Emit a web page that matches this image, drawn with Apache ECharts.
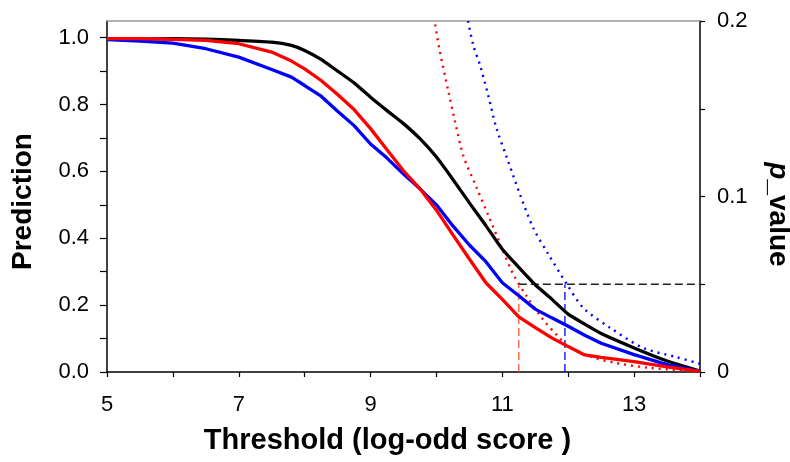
<!DOCTYPE html>
<html>
<head>
<meta charset="utf-8">
<script src="https://cdn.jsdelivr.net/npm/echarts@6/dist/echarts.min.js"></script>
<style>
html,body{margin:0;padding:0;background:#fff;}
#chart{width:790px;height:462px;}
</style>
</head>
<body>
<div id="chart"></div>
<script>
// ---- data ----
var thresholds = [5, 5.5, 6, 6.5, 7, 7.5, 7.8, 8, 8.25, 8.5, 8.75, 9, 9.25, 9.5, 9.75, 10, 10.25, 10.5, 10.75, 11, 11.25, 11.5, 11.75, 12, 12.25, 12.5, 13, 13.5, 14];
var predBlack = [0.995, 0.996, 0.997, 0.996, 0.992, 0.987, 0.977, 0.962, 0.935, 0.900, 0.865, 0.822, 0.782, 0.743, 0.698, 0.643, 0.576, 0.506, 0.438, 0.367, 0.313, 0.261, 0.218, 0.173, 0.143, 0.115, 0.072, 0.033, 0.003];
var predRed   = [0.997, 0.997, 0.995, 0.992, 0.982, 0.957, 0.930, 0.907, 0.872, 0.830, 0.785, 0.728, 0.665, 0.602, 0.548, 0.484, 0.410, 0.338, 0.267, 0.217, 0.165, 0.133, 0.102, 0.076, 0.051, 0.044, 0.031, 0.015, 0.002];
var predBlue  = [0.994, 0.990, 0.984, 0.967, 0.942, 0.905, 0.882, 0.857, 0.825, 0.780, 0.737, 0.682, 0.640, 0.592, 0.548, 0.500, 0.437, 0.380, 0.330, 0.267, 0.228, 0.188, 0.162, 0.137, 0.110, 0.086, 0.052, 0.022, 0.002];

var redPX  = [9.98, 10.05, 10.18, 10.28, 10.41, 10.61, 10.79, 11.0, 11.17, 11.37, 11.62, 11.82, 12.0, 12.33, 12.73, 13.24, 14];
var redP   = [0.198, 0.183, 0.160, 0.143, 0.123, 0.105, 0.089, 0.070, 0.0554, 0.0431, 0.0298, 0.0213, 0.0146, 0.0089, 0.0051, 0.0023, 0.0003];
var bluePX = [10.48, 10.56, 10.66, 10.79, 10.91, 11.07, 11.27, 11.47, 11.7, 11.98, 12.23, 12.64, 13.14, 13.64, 14];
var blueP  = [0.200, 0.186, 0.175, 0.157, 0.139, 0.122, 0.101, 0.082, 0.067, 0.050, 0.0365, 0.0251, 0.0137, 0.0085, 0.0047];

var pCutoff = 0.05;
var redCut = 11.25;
var blueCut = 11.95;
var xMax = 14;

var xTickLabels = [5, 7, 9, 11, 13];
var leftTickLabels = [0, 0.2, 0.4, 0.6, 0.8, 1.0];
var leftTicks = [0, 0.1, 0.2, 0.3, 0.4, 0.5, 0.6, 0.7, 0.8, 0.9, 1.0];
var rightTickLabels = [0, 0.1, 0.2];

function pairs(xs, ys) { return xs.map(function (x, i) { return [x, ys[i]]; }); }

var FONT = 'Liberation Sans';
var chart = echarts.init(document.getElementById('chart'));
chart.setOption({
  animation: false,
  backgroundColor: '#fff',
  grid: { left: 107, right: 90, top: 21, bottom: 90, containLabel: false, outerBoundsMode: 'none' },
  xAxis: [{
    type: 'value', min: 5, max: 14, interval: 1,
    name: 'Threshold (log-odd score )', nameLocation: 'middle', nameGap: 54,
    nameTextStyle: { fontFamily: FONT, fontSize: 29, fontWeight: 'bold', color: '#000', padding: [0, 32, 0, 0] },
    axisLine: { show: true, onZero: false, lineStyle: { color: '#000', width: 1.5 } },
    axisTick: { show: true, inside: false, length: 5, lineStyle: { color: '#000', width: 1.2 } },
    axisLabel: {
      fontFamily: FONT, fontSize: 22, color: '#000', margin: 22,
      formatter: function (v) { return xTickLabels.indexOf(v) >= 0 ? String(v) : ''; }
    },
    splitLine: { show: false }
  }, {
    type: 'value', min: 5, max: 14, position: 'top',
    axisLine: { show: true, onZero: false, lineStyle: { color: '#999', width: 1.5 } },
    axisTick: { show: false }, axisLabel: { show: false }, splitLine: { show: false }
  }],
  yAxis: [{
    type: 'value', min: 0, max: 1.05, position: 'left',
    name: 'Prediction', nameLocation: 'middle', nameGap: 70, nameRotate: 90,
    nameTextStyle: { fontFamily: FONT, fontSize: 28, fontWeight: 'bold', color: '#000', padding: [0, 10, 0, 0] },
    axisLine: { show: true, onZero: false, lineStyle: { color: '#000', width: 1.5 } },
    axisTick: { show: true, inside: false, length: 7, customValues: leftTicks, lineStyle: { color: '#000', width: 1.2 } },
    axisLabel: {
      fontFamily: FONT, fontSize: 22, color: '#000', margin: 18,
      customValues: leftTickLabels,
      formatter: function (v) { return v.toFixed(1); }
    },
    splitLine: { show: false }
  }, {
    type: 'value', min: 0, max: 0.2, interval: 0.05, position: 'right',
    name: '{i|p}{b|_value}', nameLocation: 'middle', nameGap: 64, nameRotate: -90,
    nameTextStyle: {
      fontFamily: FONT, fontSize: 28, fontWeight: 'bold', color: '#000', padding: [0, 0, 0, 36],
      rich: {
        i: { fontFamily: FONT, fontSize: 28, fontWeight: 'bold', fontStyle: 'italic', color: '#000' },
        b: { fontFamily: FONT, fontSize: 28, fontWeight: 'bold', color: '#000' }
      }
    },
    axisLine: { show: true, onZero: false, lineStyle: { color: '#000', width: 1.5 } },
    axisTick: { show: true, inside: false, length: 5, lineStyle: { color: '#000', width: 1.2 } },
    axisLabel: {
      fontFamily: FONT, fontSize: 22, color: '#000', margin: 17,
      formatter: function (v) {
        for (var i = 0; i < rightTickLabels.length; i++) {
          if (Math.abs(v - rightTickLabels[i]) < 1e-9) return String(rightTickLabels[i]);
        }
        return '';
      }
    },
    splitLine: { show: false }
  }],
  series: [
    { type: 'line', name: 'p red', yAxisIndex: 1, data: pairs(redPX, redP), showSymbol: false, symbol: 'none', smooth: 0.3,
      lineStyle: { color: '#ff0000', width: 2.4, type: [2, 5] }, z: 2 },
    { type: 'line', name: 'p blue', yAxisIndex: 1, data: pairs(bluePX, blueP), showSymbol: false, symbol: 'none', smooth: 0.3,
      lineStyle: { color: '#0000ff', width: 2.4, type: [2, 5] }, z: 2 },
    { type: 'line', name: 'cut line', yAxisIndex: 1, data: [[redCut, pCutoff], [xMax, pCutoff]], symbol: 'none',
      lineStyle: { color: '#222', width: 1.3, type: [8, 4] }, z: 3 },
    { type: 'line', name: 'red cut', yAxisIndex: 1, data: [[redCut, 0], [redCut, pCutoff]], symbol: 'none',
      lineStyle: { color: '#ff5533', width: 1.3, type: [8, 4] }, z: 3 },
    { type: 'line', name: 'blue cut', yAxisIndex: 1, data: [[blueCut, 0], [blueCut, pCutoff]], symbol: 'none',
      lineStyle: { color: '#0000ff', width: 1.3, type: [8, 4] }, z: 3 },
    { type: 'line', name: 'black', yAxisIndex: 0, data: pairs(thresholds, predBlack), symbol: 'none', smooth: 0.15,
      lineStyle: { color: '#000000', width: 3.3 }, z: 5 },
    { type: 'line', name: 'blue', yAxisIndex: 0, data: pairs(thresholds, predBlue), symbol: 'none',
      lineStyle: { color: '#0000ff', width: 3.3 }, z: 5 },
    { type: 'line', name: 'red', yAxisIndex: 0, data: pairs(thresholds, predRed), symbol: 'none',
      lineStyle: { color: '#ff0000', width: 3.3 }, z: 5 }
  ]
});
</script>
</body>
</html>
